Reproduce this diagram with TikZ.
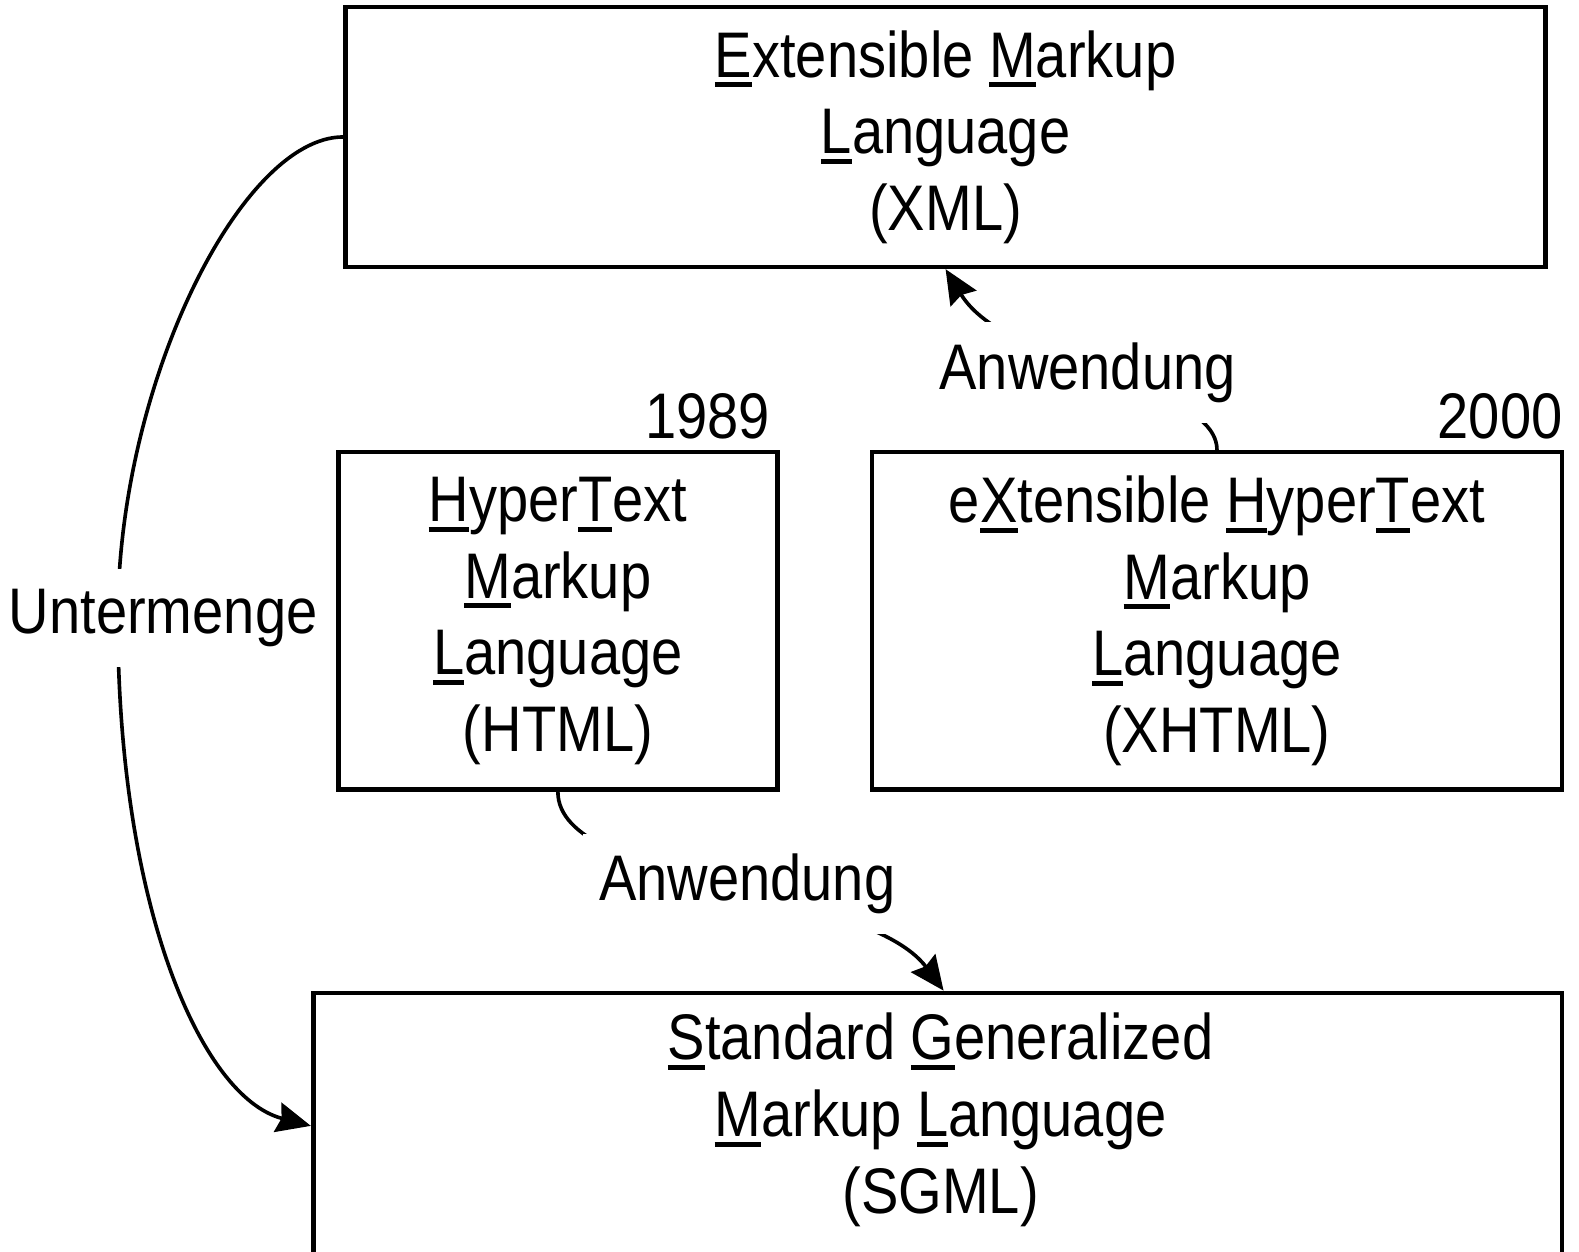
\documentclass[tikz,border=0pt]{standalone}
\usepackage{fontspec}
\setmainfont{Liberation Sans}[FakeStretch=0.87]
\usetikzlibrary{arrows.meta}
% large body text for the boxes and labels
\newcommand\bigfont{\fontsize{32}{38}\selectfont}
% thick underline under the initial letters of the acronyms
\newcommand\uln[1]{\setbox0\hbox{#1}\rlap{\rule[-5pt]{\wd0}{2.5pt}}\box0}
\begin{document}
\begin{tikzpicture}[x=0.5pt,y=-0.5pt,
  box/.style={draw, line width=2.3pt, inner sep=0pt, align=center, font=\bigfont},
  lbl/.style={font=\bigfont, inner sep=0pt},
  gaplbl/.style={font=\bigfont, fill=white, inner xsep=8pt, inner ysep=10pt},
  conn/.style={line width=1.8pt, -{Stealth[length=17pt,width=15pt,inset=2pt]}}]
\useasboundingbox (0,0) rectangle (1568,1243);

% boxes
\node[box, minimum width=596pt, minimum height=129pt] (xml) at (939,136)
  {\uln{E}xtensible \uln{M}arkup\\\uln{L}anguage\\(XML)};
\node[box, minimum width=218pt, minimum height=167.5pt] (html) at (554,616.5)
  {\uln{H}yper\uln{T}ext\\\uln{M}arkup\\\uln{L}anguage\\(HTML)};
\node[box, minimum width=342.5pt, minimum height=167.5pt] (xhtml) at (1208.5,616.5)
  {e\uln{X}tensible \uln{H}yper\uln{T}ext\\\uln{M}arkup\\\uln{L}anguage\\(XHTML)};
\node[box, minimum width=620pt, minimum height=132pt] (sgml) at (931,1118) {};
\node[lbl, align=center] (sgmltext) at (934,1112)
  {\uln{S}tandard \uln{G}eneralized\\\uln{M}arkup \uln{L}anguage\\(SGML)};

% years
\node[lbl, anchor=east] (y1989) at (765,413) {1989};
\node[lbl, anchor=east] (y2000) at (1552,413) {2000};

% connectors
\draw[conn] (xhtml.north) .. controls (1208,380) and (1000,367) .. (xml.south);
\node[gaplbl] (app1) at (1080,370) {Anwendung};

\draw[conn] (html.south) .. controls (554,880) and (860,880) .. ([xshift=3pt]sgml.north);
\node[gaplbl] (app2) at (742,878) {Anwendung};

\draw[conn] (xml.west) .. controls (240,136) and (117,380) .. (117,614)
  .. controls (117,900) and (200,1090) .. (sgml.west);
\node[gaplbl] (sub) at (162,614) {Untermenge};
\end{tikzpicture}
\end{document}
